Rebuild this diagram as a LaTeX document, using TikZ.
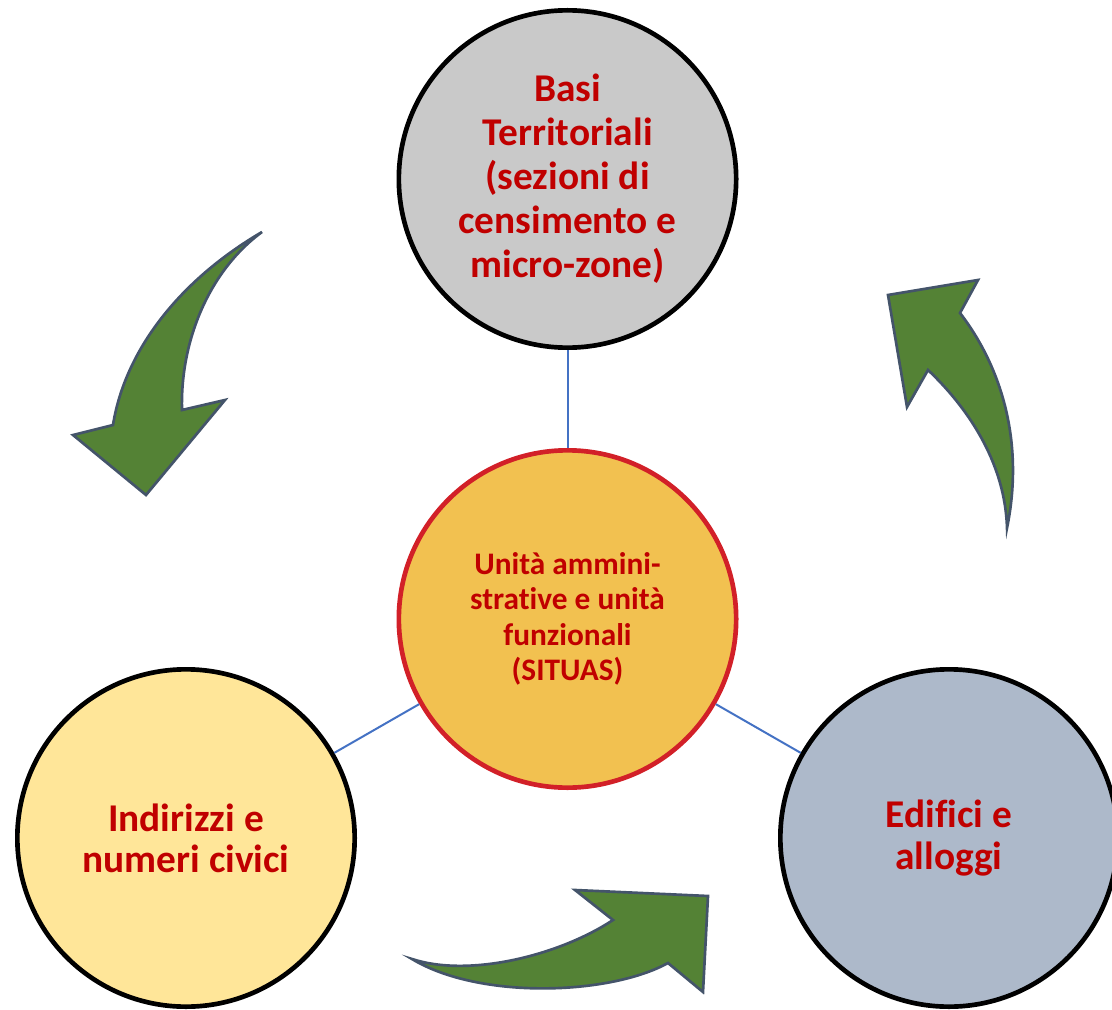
\documentclass[tikz,border=0pt]{standalone}
\usepackage{fontspec}
\setmainfont{Carlito}[Ligatures=NoCommon]
\definecolor{txtred}{RGB}{192,0,0}
\definecolor{grayfill}{RGB}{201,201,201}
\definecolor{yelfill}{RGB}{255,230,153}
\definecolor{bluefill}{RGB}{173,185,202}
\definecolor{orafill}{RGB}{242,193,80}
\definecolor{redline}{RGB}{210,32,40}
\definecolor{linkblue}{RGB}{68,114,196}
\definecolor{arrgreen}{RGB}{84,130,53}
\definecolor{arredge}{RGB}{68,84,106}
\tikzset{
  bigcirc/.style={circle, draw=black, line width=3.5pt, minimum size=253pt, inner sep=0pt, align=center, text=txtred, font=\bfseries\fontsize{29.5}{33}\selectfont},
  midcirc/.style={circle, draw=redline, fill=orafill, line width=3.5pt, minimum size=253pt, inner sep=0pt, align=center, text=txtred, font=\bfseries\fontsize{23.5}{26.5}\selectfont},
  link/.style={draw=linkblue, line width=1.5pt},
  bentarrow/.style={fill=arrgreen, draw=arredge, line width=2pt, line join=miter}
}
\begin{document}
\begin{tikzpicture}[x=0.75pt,y=-0.75pt]
\useasboundingbox (0,0) rectangle (1112,1009);
\clip (0,0) rectangle (1112,1009);
\node[bigcirc, fill=grayfill] (top) at (567.5,179) {Basi\\Territoriali\\(sezioni di\\censimento e\\micro-zone)};
\node[midcirc] (mid) at (567.5,619) {Unità ammini-\\strative e unità\\funzionali\\(SITUAS)};
\node[bigcirc, fill=yelfill, font=\bfseries\fontsize{29.5}{31}\selectfont] (left) at (186,838) {Indirizzi e\\numeri civici};
\node[bigcirc, fill=bluefill, font=\bfseries\fontsize{29.5}{32}\selectfont] (right) at (949,838) {Edifici e\\alloggi};
\draw[link] (top) -- (mid);
\draw[link] (mid) -- (left);
\draw[link] (mid) -- (right);
% top-left arrow
\draw[bentarrow] (262,232) .. controls (180,280) and (125,350) .. (113,425)
  -- (73,435) -- (146,495) -- (225,400) -- (182,410)
  .. controls (180,340) and (210,270) .. (262,232) -- cycle;
% right arrow
\draw[bentarrow] (1007,528) .. controls (1025,440) and (1000,365) .. (960,313)
  -- (978,280) -- (888,295) -- (907,407) -- (928,370)
  .. controls (965,405) and (1005,460) .. (1007,528) -- cycle;
% bottom arrow
\draw[bentarrow] (412,959) .. controls (470,978) and (560,955) .. (613,920)
  -- (575,890) -- (708,896) -- (703,992) -- (668,963)
  .. controls (610,995) and (480,1000) .. (412,959) -- cycle;
\end{tikzpicture}
\end{document}
